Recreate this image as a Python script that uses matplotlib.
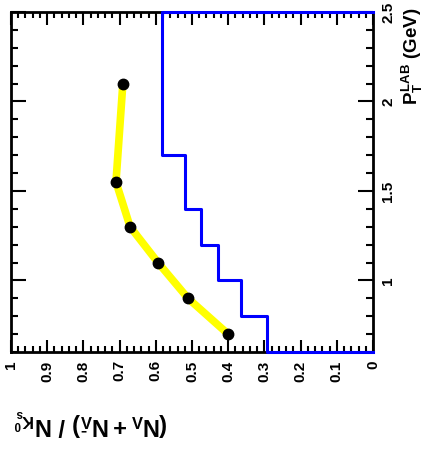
"""Rotated ROOT-style ratio plot: (N_L + N_Lbar)/N_K0s vs pT (LAB)."""
import matplotlib
matplotlib.use("Agg")
import matplotlib.pyplot as plt
from matplotlib.ticker import MultipleLocator

plt.rcParams["font.family"] = ["Liberation Sans", "DejaVu Sans"]
plt.rcParams["font.weight"] = "bold"
plt.rcParams["mathtext.fontset"] = "custom"
plt.rcParams["mathtext.rm"] = "Liberation Sans:bold"
plt.rcParams["mathtext.it"] = "Liberation Sans:bold"
plt.rcParams["mathtext.bf"] = "Liberation Sans:bold"

# histogram (blue): pT bin edges and ratio per bin
hist_edges = [0.6, 0.8, 1.0, 1.2, 1.4, 1.7, 2.5]
hist_ratio = [0.293, 0.365, 0.428, 0.475, 0.519, 0.583]

# measured points (yellow band + black markers)
pt_points = [0.7, 0.9, 1.1, 1.3, 1.55, 2.1]
ratio_points = [0.40, 0.511, 0.594, 0.671, 0.71, 0.691]

ratio_ticks = [1, 0.9, 0.8, 0.7, 0.6, 0.5, 0.4, 0.3, 0.2, 0.1, 0]
ratio_labels = ["1", "0.9", "0.8", "0.7", "0.6", "0.5", "0.4", "0.3", "0.2", "0.1", "0"]
pt_ticks = [1, 1.5, 2, 2.5]
pt_labels = ["1", "1.5", "2", "2.5"]

fig = plt.figure(figsize=(4.34, 4.55), dpi=100)
W, H = 434, 455
ax = fig.add_axes([11 / W, 1 - 352 / H, 362 / W, 340 / H])

# histogram outline, closed down to 0 at both ends (no line along the 0 edge)
hx, hy = [0.0], [hist_edges[0]]
for i, v in enumerate(hist_ratio):
    hx += [v, v]
    hy += [hist_edges[i], hist_edges[i + 1]]
hx.append(0.0)
hy.append(hist_edges[-1])
ax.plot(hx, hy, "-", color="#0000ff", lw=2.2, zorder=3, clip_on=False)

ax.plot(ratio_points, pt_points, "-", color="#ffff00", lw=5.5,
        solid_capstyle="butt", zorder=3.5)
ax.plot(ratio_points, pt_points, "o", color="black", ms=7.5, zorder=4)

ax.set_xlim(1, 0)
ax.set_ylim(0.6, 2.5)

ax.xaxis.set_minor_locator(MultipleLocator(0.02))
ax.yaxis.set_minor_locator(MultipleLocator(0.1))

ax.set_xticks(ratio_ticks)
ax.set_xticklabels(ratio_labels, rotation=90, fontsize=11, fontweight="bold",
                   va="top", ha="center")
ax.set_yticks(pt_ticks)
ax.set_yticklabels(pt_labels, rotation=90, fontsize=11, fontweight="bold",
                   va="center", ha="left")

ax.tick_params(axis="both", which="both", direction="in", width=1.5,
               top=True, bottom=True, left=True, right=True,
               labelleft=False, labelright=True)
ax.tick_params(axis="x", which="major", length=9, pad=6)
ax.tick_params(axis="x", which="minor", length=4.3)
ax.tick_params(axis="y", which="major", length=10.8, pad=6)
ax.tick_params(axis="y", which="minor", length=5)

for s in ax.spines.values():
    s.set_linewidth(2)

fig.text(412 / W, 1 - 56 / H, r"$P_{T}^{LAB}$ (GeV)", rotation=90,
         fontsize=13.5, fontweight="bold", ha="center", va="center")
fig.text(91 / W, 1 - 422 / H,
         r"$(N_{\Lambda} + N_{\bar{\Lambda}})\ /\ N_{K^{0}_{s}}$",
         rotation=180, fontsize=17, ha="center", va="center")

fig.savefig("out.png", dpi=100)
